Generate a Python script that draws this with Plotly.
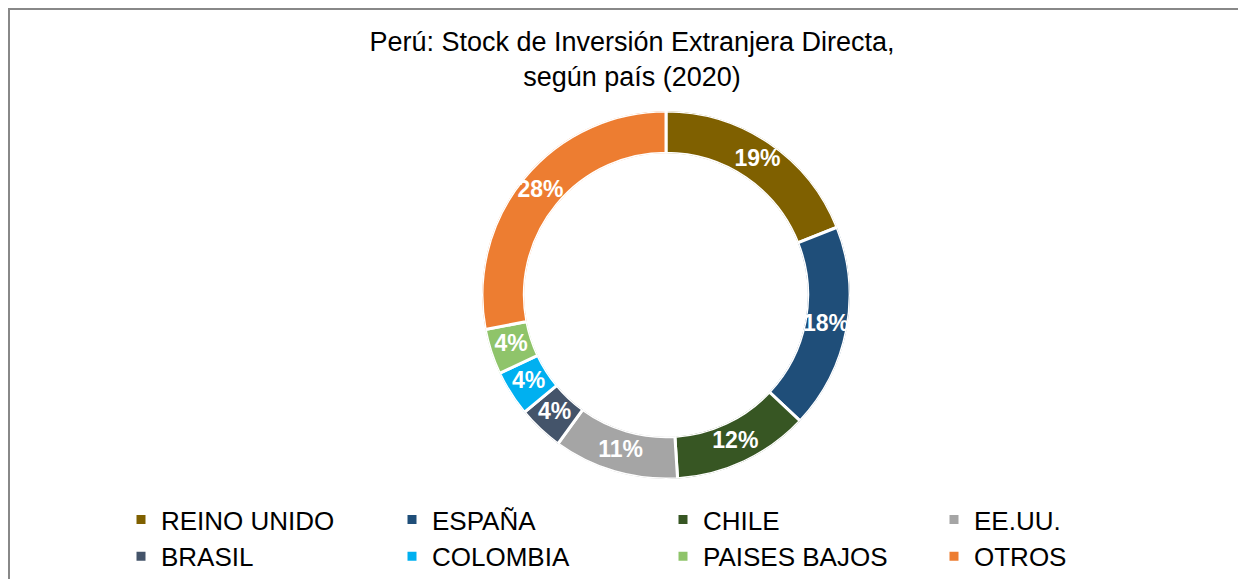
import plotly.graph_objects as go

countries = ["REINO UNIDO", "ESPAÑA", "CHILE", "EE.UU.", "BRASIL", "COLOMBIA", "PAISES BAJOS", "OTROS"]
shares = [19, 18, 12, 11, 4, 4, 4, 28]
colors = ["#7F6000", "#1F4E79", "#375623", "#A5A5A5", "#44546A", "#00B0F0", "#8FC46A", "#ED7D31"]

W, H = 1238, 571
cx, cy, r = 658, 287, 184

# angular positions (degrees, clockwise from 12 o'clock) derived from the shares
total = sum(shares)
mid_angles, widths = [], []
acc = 0.0
for s in shares:
    widths.append(s / total * 360)
    mid_angles.append((acc + s / 2) / total * 360)
    acc += s
labels_txt = [f"{round(s / total * 100)}%" for s in shares]

fig = go.Figure()
for name, th, wd, col in zip(countries, mid_angles, widths, colors):
    fig.add_trace(go.Barpolar(
        name=name, theta=[th], r=[1], width=[wd],
        marker=dict(color=col, line=dict(color="white", width=3)),
        hoverinfo="name",
    ))
fig.add_trace(go.Scatterpolar(
    theta=mid_angles, r=[0.5] * len(shares), mode="text", text=labels_txt,
    textfont=dict(family="Liberation Sans, Arial", size=23, color="white", weight="bold"),
    showlegend=False, hoverinfo="skip",
))

fig.update_layout(
    width=W, height=H,
    margin=dict(l=0, r=0, t=0, b=0, autoexpand=False),
    paper_bgcolor="white",
    font=dict(family="Liberation Sans, Arial", color="black"),
    polar=dict(
        domain=dict(x=[(cx - r) / W, (cx + r) / W], y=[(H - cy - r) / H, (H - cy + r) / H]),
        hole=0.77,
        bgcolor="rgba(0,0,0,0)",
        bargap=0,
        radialaxis=dict(range=[0, 1], visible=False, showgrid=False),
        angularaxis=dict(rotation=90, direction="clockwise", visible=False, showgrid=False),
    ),
    title=dict(
        text="Perú: Stock de Inversión Extranjera Directa,<br>según país (2020)",
        x=624 / W, xanchor="center",
        y=(H - 43) / H, yanchor="top",
        font=dict(size=27, color="black"),
    ),
    legend=dict(
        orientation="h",
        x=113 / W, xanchor="left",
        y=(H - 488) / H, yanchor="top",
        entrywidth=226, entrywidthmode="pixels",
        font=dict(size=26, color="black"),
        traceorder="normal",
    ),
    shapes=[
        dict(type="line", xref="paper", yref="paper",
             x0=0, x1=1, y0=1 - 1 / H, y1=1 - 1 / H,
             line=dict(color="#888888", width=2)),
        dict(type="line", xref="paper", yref="paper",
             x0=1 / W, x1=1 / W, y0=0, y1=1,
             line=dict(color="#888888", width=2)),
    ],
)

fig.write_html("out.html")
